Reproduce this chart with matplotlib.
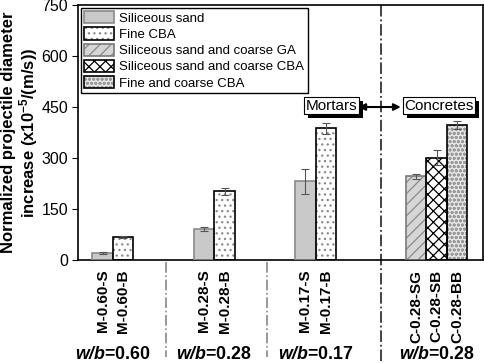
import matplotlib
matplotlib.use("Agg")
import matplotlib.pyplot as plt
import matplotlib.patheffects as pe
from matplotlib.legend_handler import HandlerTuple

plt.rcParams["font.family"] = ["Liberation Sans", "DejaVu Sans"]
plt.rcParams["mathtext.fontset"] = "custom"
plt.rcParams["mathtext.rm"] = "Liberation Sans"
plt.rcParams["mathtext.bf"] = "Liberation Sans:bold"
plt.rcParams["mathtext.it"] = "Liberation Sans:italic"
plt.rcParams["mathtext.bfit"] = "Liberation Sans:bold:italic"
plt.rcParams["hatch.linewidth"] = 0.9

# data
samples = ["M-0.60-S", "M-0.60-B", "M-0.28-S", "M-0.28-B", "M-0.17-S", "M-0.17-B",
           "C-0.28-SG", "C-0.28-SB", "C-0.28-BB"]
materials = ["S", "B", "S", "B", "S", "B", "SG", "SB", "BB"]
values = [20, 67, 91, 202, 231, 388, 246, 301, 398]
errors = [2, 3, 5, 11, 36, 16, 7, 22, 12]
group_sizes = [2, 2, 2, 3]
group_labels = ["0.60", "0.28", "0.17", "0.28"]

styles = {
    "S": dict(label="Siliceous sand", face="#c9c9c9", hatch=None, hcol="#c9c9c9", edge="#8a8a8a"),
    "B": dict(label="Fine CBA", face="white", hatch="...", hcol="#8a8a8a", edge="black"),
    "SG": dict(label="Siliceous sand and coarse GA", face="#d6d6d6", hatch="///", hcol="#8a8a8a", edge="#7a7a7a"),
    "SB": dict(label="Siliceous sand and coarse CBA", face="white", hatch="xxx", hcol="black", edge="black"),
    "BB": dict(label="Fine and coarse CBA", face="#e6e6e6", hatch="oooo", hcol="#9a9a9a", edge="black"),
}

# layout in bar-width units
group_first = [1.2, 6.15, 11.1, 16.5]
dividers = [4.3, 9.2]
main_divider = 14.8

xs = []
for start, n in zip(group_first, group_sizes):
    xs += [start + i for i in range(n)]
group_centers = [start + (n - 1) / 2 for start, n in zip(group_first, group_sizes)]

fig = plt.figure(figsize=(4.84, 3.63), dpi=100)
ax = fig.add_axes([0.161, 0.284, 0.837, 0.702])

handles = {}
for x, m, v, e in zip(xs, materials, values, errors):
    st = styles[m]
    b1 = ax.bar(x, v, width=1.0, color=st["face"], hatch=st["hatch"],
                edgecolor=st["hcol"], linewidth=0, zorder=2)
    b2 = ax.bar(x, v, width=1.0, fill=False, edgecolor=st["edge"], linewidth=1.2, zorder=3)
    ax.errorbar(x, v, yerr=e, fmt="none", ecolor="#555555", elinewidth=0.8,
                capsize=3, capthick=0.8, zorder=4)
    handles.setdefault(m, (b1, b2))

order = ["S", "B", "SG", "SB", "BB"]
ax.legend([handles[k] for k in order], [styles[k]["label"] for k in order],
          handler_map={tuple: HandlerTuple(ndivide=1)},
          loc="upper left", fontsize=9.5, frameon=True, fancybox=False,
          edgecolor="black", framealpha=1, handlelength=2.3, handleheight=1.05,
          handletextpad=0.4, labelspacing=0.2, borderpad=0.25, borderaxespad=0.2)

ax.set_xlim(0, 19.76)
ax.set_ylim(0, 750)
ax.set_yticks([0, 150, 300, 450, 600, 750])
ax.tick_params(axis="y", labelsize=11.5, direction="out", length=4, pad=3)
ax.set_xticks(xs)
ax.set_xticklabels(samples, rotation=90, fontsize=11, fontweight="bold")
ax.tick_params(axis="x", length=0, pad=7)
for s in ax.spines.values():
    s.set_linewidth(1.2)

ax.set_ylabel("Normalized projectile diameter\n"
              r"increase (x10$^{\mathbf{-5}}$/(m/s))",
              fontsize=12, fontweight="bold", linespacing=1.05)
ax.yaxis.set_label_coords(-0.093, 0.5)

# group separators
tr = ax.get_xaxis_transform()
for d in dividers:
    ax.plot([d, d], [-0.01, -0.38], transform=tr, color="#888888",
            linestyle="-.", linewidth=1.2, clip_on=False)
ax.plot([main_divider, main_divider], [1.0, -0.40], transform=tr, color="#333333",
        linestyle="-.", linewidth=1.3, clip_on=False, zorder=1)

for c, g in zip(group_centers, group_labels):
    ax.text(c, -0.37, r"$\mathbfit{w/b}$=" + g, transform=tr, ha="center", va="center",
            fontsize=12.8, fontweight="bold")

# Mortars / Concretes boxes
for txt, xa in [("Mortars", 0.626), ("Concretes", 0.891)]:
    t = ax.text(xa, 0.605, txt, transform=ax.transAxes, ha="center", va="center",
                fontsize=11, zorder=6,
                bbox=dict(boxstyle="square,pad=0.1", facecolor="white",
                          edgecolor="black", linewidth=0.8))
    t.get_bbox_patch().set_path_effects([
        pe.SimplePatchShadow(offset=(3, -3), shadow_rgbFace="black", alpha=1),
        pe.Normal()])
ax.annotate("", xy=(0.797, 0.6), xytext=(0.692, 0.6), xycoords="axes fraction",
            arrowprops=dict(arrowstyle="<|-|>", color="black", lw=1.5,
                            mutation_scale=10, shrinkA=0, shrinkB=0), zorder=6)

fig.savefig("out.png", dpi=100)
